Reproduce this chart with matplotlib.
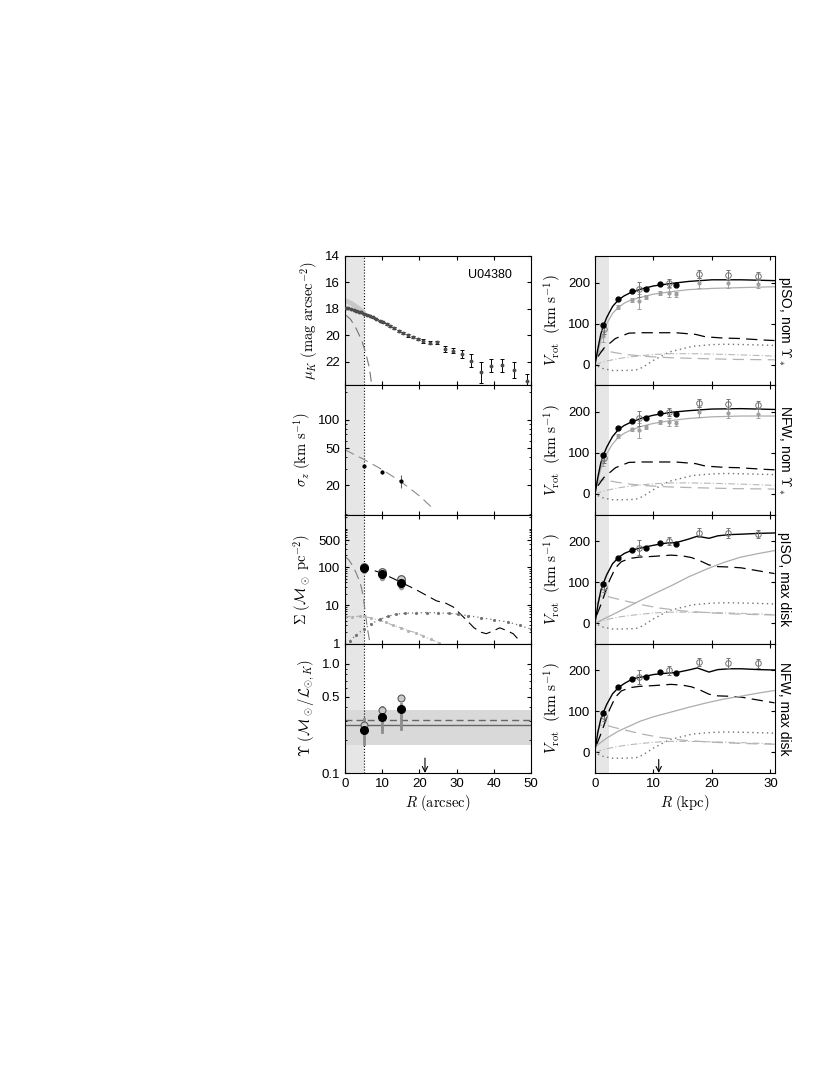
import matplotlib
matplotlib.use('Agg')
import matplotlib.pyplot as plt
from matplotlib.ticker import FixedLocator, NullFormatter, LogLocator

plt.rcParams['font.family'] = ['Liberation Sans', 'DejaVu Sans']
plt.rcParams['mathtext.fontset'] = 'cm'
plt.rcParams['font.size'] = 9.5
plt.rcParams['xtick.labelsize'] = 9.5
plt.rcParams['ytick.labelsize'] = 9.5
plt.rcParams['xtick.direction'] = 'in'
plt.rcParams['ytick.direction'] = 'in'
plt.rcParams['xtick.top'] = True
plt.rcParams['ytick.right'] = True
plt.rcParams['xtick.major.size'] = 3
plt.rcParams['ytick.major.size'] = 3
plt.rcParams['xtick.minor.size'] = 1.5
plt.rcParams['ytick.minor.size'] = 1.5
plt.rcParams['axes.linewidth'] = 0.8

LABEL_FS = 10.5
LONG_DASH = (0, (9, 5))

# ---- left column (arcsec) ----
# surface brightness profile
mu_r = [0.2, 0.9, 1.6, 2.3, 3.0, 3.7, 4.4, 5.1, 5.9, 6.7, 7.5, 8.4, 9.3, 10.2, 11.2,
        12.2, 13.3, 14.4, 15.6, 16.9, 18.2, 19.6, 21.1, 22.8, 24.6,
        26.9, 29.1, 31.4, 33.8, 36.5, 39.2, 42.1, 45.4, 48.8]
mu_val = [17.95, 17.98, 18.02, 18.08, 18.15, 18.22, 18.28, 18.36, 18.45, 18.55, 18.66,
          18.78, 18.9, 19.02, 19.15, 19.3, 19.48, 19.67, 19.85, 20.02, 20.15, 20.3,
          20.45, 20.57, 20.55, 21.06, 21.19, 21.44, 21.95, 22.8, 22.33, 22.28, 22.67, 23.48]
mu_err = [0.02] * 12 + [0.04, 0.05, 0.05, 0.06, 0.07, 0.08, 0.08, 0.09, 0.1, 0.1, 0.12,
                        0.12, 0.13, 0.2, 0.2, 0.3, 0.5, 0.8, 0.5, 0.5, 0.6, 0.5]
band_r = [0.2, 1.0, 2.0, 3.0, 4.0, 5.0]
band_mu = [17.4, 17.5, 17.65, 17.85, 18.05, 18.3]
mu_bulge_r = [0.3, 1.5, 3.0, 4.5, 5.5, 6.5, 7.2]
mu_bulge = [18.5, 18.8, 19.5, 20.4, 21.3, 22.4, 23.8]

# vertical velocity dispersion
sig_r = [5, 10, 15]
sig_val = [32, 27.7, 22.5]
sig_err = [1.5, 1.5, 3.5]
sig_fit_r = [0, 5, 10, 15, 20, 23.5]
sig_fit = [48, 38, 29.5, 22, 15.5, 11.5]

# mass surface density
dyn_r = [5, 10, 15]
dyn_black = [92, 65, 39]
dyn_open = [100, 72, 49]
dyn_grey = [80, 53, 30]
disk_sd_r = [8, 10, 13, 16, 19, 22, 24.6, 27, 29.1, 32, 34.7, 36.5, 38, 40, 41.6, 43.5, 45.2, 46.6, 47.2]
disk_sd = [80, 68, 50, 36, 26, 18, 13.1, 11.5, 9.1, 4.8, 2.6, 2.0, 1.83, 2.2, 2.6, 2.2, 1.83, 1.3, 1.15]
bulge_sd_r = [0.2, 1, 2, 3, 4, 4.5, 5, 5.5, 6, 6.6]
bulge_sd = [180, 155, 110, 70, 40, 27, 14, 6, 2.6, 1.2]
h2_sd_r = [0, 2, 4, 5, 7, 9.3, 11, 13, 15, 17, 19, 21, 23, 25.4]
h2_sd = [5.1, 5.1, 5.2, 5.2, 4.7, 4.1, 3.6, 3.0, 2.6, 2.2, 1.95, 1.6, 1.3, 1.06]
hi_sd_r = [1.3, 3, 5, 7, 9.3, 11.5, 13.8, 16, 19, 22, 25, 28, 30.4, 33, 36.6, 40, 43.8, 47, 50]
hi_sd = [1.2, 1.7, 2.4, 3.3, 4.3, 5.2, 5.9, 6.2, 6.4, 6.5, 6.4, 6.2, 5.9, 5.4, 4.8, 4.2, 3.7, 3.0, 2.4]

# mass-to-light ratio
ups_r = [5, 10, 15]
ups_black = [0.249, 0.323, 0.388]
ups_open = [0.273, 0.374, 0.489]
ups_lo = [0.183, 0.237, 0.254]
ups_hi = [0.314, 0.40, 0.43]
ups_mean = 0.273
ups_dash = 0.303
ups_band = [0.179, 0.374]

# ---- right column (kpc) ----
vobs_r = [1.43, 3.95, 6.35, 8.75, 11.2, 13.8]
vobs = [96, 160, 179, 184.5, 196.5, 194]
vhi_r = [1.6, 7.6, 12.7, 17.8, 22.8, 27.9]
vhi = [88, 184, 200, 221, 219, 217]
vhi_err = [12, 18, 10, 10, 12, 10]
vdm_r = [1.43, 3.95, 6.35, 7.6, 8.75, 11.2, 12.7, 13.8, 17.8, 22.8, 27.9]
vdm_iso = [70, 141, 158, 155, 164, 175, 176, 172, 199, 198, 196]
vdm_nfw = [82, 141, 158, 155, 164, 175, 176, 172, 199, 198, 196]
vdm_err = [14, 5, 4, 18, 5, 5, 10, 6, 12, 12, 10]

mod_r = [0, 0.5, 1, 1.5, 2, 3, 4, 5, 6, 8, 10, 13, 16, 20, 25, 30.7]
tot_iso_nom = [0, 40, 75, 97, 115, 142, 158, 168, 175, 185, 192, 198, 203, 207, 207, 205]
halo_iso_nom = [0, 30, 60, 80, 100, 125, 140, 150, 157, 165, 172, 178, 183, 186, 188, 190]
tot_nfw_nom = [0, 42, 76, 97, 114, 140, 157, 167, 174, 185, 192, 199, 203, 207, 208, 206]
halo_nfw_nom = [0, 35, 62, 82, 98, 122, 138, 148, 155, 165, 172, 179, 184, 188, 190, 190]

disk_nom_r = [0.5, 1.5, 3.5, 5.8, 8, 10, 13.8, 17.2, 18.9, 22, 24.6, 29.1, 30.7]
disk_nom = [20, 40, 64, 77, 78, 78, 78, 74, 68, 65, 64, 60, 59]
bulge_nom_r = [0.2, 0.8, 1.5, 2.5, 4, 6, 9, 13, 18, 24, 30.7]
bulge_nom = [20, 33, 35, 32, 28, 24, 20, 17, 15, 13, 12]
h2_v_r = [0, 1, 2, 4, 6, 8, 10, 13, 16, 20, 25, 30.7]
h2_v = [0, 5, 9, 15, 19, 22, 25, 27, 27, 26, 24, 21]
hi_v_r = [0.5, 1.5, 3, 5, 7, 8.2, 9.9, 12.7, 16.7, 20, 22.4, 26, 29.8, 30.7]
hi_v = [-4, -10, -14, -14, -13, -6, 10, 31, 45, 49, 50, 49, 47.5, 47]

maxr = [0, 0.5, 1, 1.5, 2, 3, 4, 5, 6.5, 8, 10, 12, 14, 16, 17.5, 19.5, 21, 23, 25, 28, 30.7]
tot_iso_max = [0, 45, 80, 100, 118, 145, 160, 170, 179, 184, 190, 195, 197, 205, 212, 207, 213, 216, 217, 219, 220]
tot_nfw_max = [5, 50, 82, 100, 117, 143, 158, 168, 180, 184, 190, 193, 195, 201, 206, 196, 202, 204, 204, 202, 201]
disk_max_r = [0.3, 1, 1.5, 2.5, 3.5, 4.5, 6, 7.5, 10, 13, 15, 16.5, 18, 19.5, 21, 23, 25, 27, 30.7]
disk_max = [20, 45, 65, 105, 135, 150, 158, 161, 163, 166, 164, 160, 152, 142, 138, 137, 135, 130, 121]
bulge_max_r = [0.3, 0.8, 1.5, 3, 5, 8, 11, 15, 20, 25, 30.7]
bulge_max = [45, 65, 68, 62, 55, 45, 37, 30, 25, 22, 20]
halo_r = [0, 2, 4, 7.7, 10, 13.4, 16, 19.1, 22, 24.9, 28, 30.7]
halo_iso_max = [0, 14, 28, 55, 71, 94, 113, 132, 148, 161, 170, 177]
halo_nfw_max = [14, 35, 52, 76, 87, 100, 110, 121, 130, 137, 145, 151]

panel_names = ['pISO, nom $\\Upsilon_*$', 'NFW, nom $\\Upsilon_*$', 'pISO, max disk', 'NFW, max disk']

fig = plt.figure(figsize=(8.3, 10.75), dpi=100)
W, H = 830.0, 1075.0
top, ph = 256.0, 129.25
lax = []
rax = []
for i in range(4):
    b = 1 - (top + (i + 1) * ph) / H
    lax.append(fig.add_axes([345 / W, b, 186 / W, ph / H]))
    rax.append(fig.add_axes([595 / W, b, 179.5 / W, ph / H]))

for ax in lax:
    ax.axvspan(0, 5, color='0.9', lw=0, zorder=0)
    ax.axvline(5, color='k', ls=':', lw=0.8, zorder=1)
    ax.set_xlim(0, 50)
    ax.xaxis.set_major_locator(FixedLocator([0, 10, 20, 30, 40, 50]))
for ax in lax[:3]:
    ax.set_xticklabels([])

# panel 1: surface brightness
ax = lax[0]
ax.plot(band_r, band_mu, color='0.78', lw=3.5, solid_capstyle='round', zorder=2)
ax.plot(mu_bulge_r, mu_bulge, color='0.45', lw=0.8, ls=LONG_DASH, zorder=2)
ax.errorbar(mu_r, mu_val, yerr=mu_err, fmt='o', ms=1.8, mfc='0.3', mec='0.3',
            ecolor='k', elinewidth=0.7, capsize=1.5, capthick=0.7, zorder=3)
ax.set_ylim(23.8, 14)
ax.yaxis.set_major_locator(FixedLocator([14, 16, 18, 20, 22]))
ax.set_ylabel('$\\mu_K\\ (\\mathrm{mag\\ arcsec^{-2}})$', fontsize=LABEL_FS, labelpad=3)
ax.text(0.78, 0.855, 'U04380', transform=ax.transAxes, ha='center', va='center', fontsize=9)

# panel 2: sigma_z
ax = lax[1]
ax.set_yscale('log')
ax.plot(sig_fit_r, sig_fit, color='0.55', lw=0.8, ls=LONG_DASH, zorder=2)
ax.errorbar(sig_r, sig_val, yerr=sig_err, fmt='o', ms=2, color='k', mfc='k',
            ecolor='0.4', elinewidth=0.8, capsize=0, zorder=3)
ax.set_ylim(9.8, 234)
ax.yaxis.set_major_locator(FixedLocator([20, 50, 100]))
ax.set_yticklabels(['20', '50', '100'])
ax.yaxis.set_minor_locator(LogLocator(subs=range(1, 10)))
ax.yaxis.set_minor_formatter(NullFormatter())
ax.set_ylabel('$\\sigma_z\\ (\\mathrm{km\\ s^{-1}})$', fontsize=LABEL_FS, labelpad=3)

# panel 3: Sigma
ax = lax[2]
ax.set_yscale('log')
ax.plot(bulge_sd_r, bulge_sd, color='0.5', lw=0.8, ls=LONG_DASH, zorder=2)
ax.plot(disk_sd_r, disk_sd, color='k', lw=0.8, ls=LONG_DASH, zorder=2)
ax.plot(h2_sd_r, h2_sd, color='0.7', lw=0.8, ls=(0, (5, 2, 1, 2)), marker='.', ms=2.5, zorder=2)
ax.plot(hi_sd_r, hi_sd, color='0.45', lw=0.9, ls=(0, (1, 2.5)), marker='.', ms=2.5, zorder=2)
ax.plot(dyn_r, dyn_grey, 'o', ms=3, color='0.6', zorder=3)
ax.plot(dyn_r, dyn_open, 'o', ms=5.5, mfc='0.8', mec='0.3', mew=0.8, zorder=3)
ax.plot(dyn_r, dyn_black, 'o', ms=5.5, color='k', zorder=4)
ax.set_ylim(1, 2340)
ax.yaxis.set_major_locator(FixedLocator([1, 10, 100, 500]))
ax.set_yticklabels(['1', '10', '100', '500'])
ax.yaxis.set_minor_locator(LogLocator(subs=range(1, 10)))
ax.yaxis.set_minor_formatter(NullFormatter())
ax.set_ylabel('$\\Sigma\\ (\\mathcal{M}_\\odot\\ \\mathrm{pc^{-2}})$', fontsize=LABEL_FS, labelpad=3)

# panel 4: Upsilon
ax = lax[3]
ax.set_yscale('log')
ax.axhspan(ups_band[0], ups_band[1], color='0.85', lw=0, zorder=0)
ax.axhline(ups_mean, color='0.4', lw=1, zorder=1)
ax.axhline(ups_dash, color='0.4', lw=1, ls=(0, (5, 3)), zorder=1)
for r, lo, hi in zip(ups_r, ups_lo, ups_hi):
    ax.plot([r, r], [lo, hi], color='0.55', lw=2, zorder=2)
ax.plot(ups_r, ups_open, 'o', ms=5, mfc='0.8', mec='0.35', mew=0.8, zorder=3)
ax.plot(ups_r, ups_black, 'o', ms=5.5, color='k', zorder=4)
ax.set_ylim(0.1, 1.53)
ax.yaxis.set_major_locator(FixedLocator([0.1, 0.5, 1.0]))
ax.set_yticklabels(['0.1', '0.5', '1.0'])
ax.yaxis.set_minor_locator(LogLocator(subs=range(1, 10)))
ax.yaxis.set_minor_formatter(NullFormatter())
ax.set_ylabel('$\\Upsilon\\ (\\mathcal{M}_\\odot/\\mathcal{L}_{\\odot,K})$', fontsize=LABEL_FS, labelpad=3)
ax.set_xlabel('$R\\ (\\mathrm{arcsec})$', fontsize=LABEL_FS, labelpad=2)
ax.annotate('', xy=(21.5, 0.1), xytext=(21.5, 0.137),
            arrowprops=dict(arrowstyle='->', color='k', lw=0.8, shrinkA=0, shrinkB=0))

# right column: rotation curves
tots = [tot_iso_nom, tot_nfw_nom, tot_iso_max, tot_nfw_max]
for i, ax in enumerate(rax):
    ax.axvspan(0, 2.45, color='0.9', lw=0, zorder=0)
    ax.set_xlim(0, 30.7)
    ax.set_ylim(-50, 265)
    ax.xaxis.set_major_locator(FixedLocator([0, 10, 20, 30]))
    ax.yaxis.set_major_locator(FixedLocator([0, 100, 200]))
    ax.set_ylabel('$V_{\\mathrm{rot}}\\ \\ (\\mathrm{km\\ s^{-1}})$', fontsize=LABEL_FS + 0.5, labelpad=3)
    if i < 3:
        ax.set_xticklabels([])
    nom = i < 2
    ax.plot(h2_v_r, h2_v, color='0.72', lw=0.8, ls=(0, (6, 2, 1, 2)), zorder=2)
    ax.plot(hi_v_r, hi_v, color='0.45', lw=1.0, ls=(0, (1, 2.5)), zorder=2)
    if nom:
        ax.plot(bulge_nom_r, bulge_nom, color='0.7', lw=0.9, ls=LONG_DASH, zorder=2)
        ax.plot(disk_nom_r, disk_nom, color='k', lw=0.9, ls=LONG_DASH, zorder=2)
        halo = halo_iso_nom if i == 0 else halo_nfw_nom
        vdm = vdm_iso if i == 0 else vdm_nfw
        ax.plot(mod_r, halo, color='0.68', lw=0.9, zorder=2)
        ax.plot(mod_r, tots[i], color='k', lw=1.0, zorder=3)
        ax.errorbar(vdm_r, vdm, yerr=vdm_err, fmt='o', ms=2, color='0.62',
                    elinewidth=0.7, capsize=1.5, capthick=0.7, zorder=3)
    else:
        ax.plot(bulge_max_r, bulge_max, color='0.7', lw=0.9, ls=LONG_DASH, zorder=2)
        ax.plot(disk_max_r, disk_max, color='k', lw=0.9, ls=LONG_DASH, zorder=2)
        halo = halo_iso_max if i == 2 else halo_nfw_max
        ax.plot(halo_r, halo, color='0.68', lw=0.9, zorder=2)
        ax.plot(maxr, tots[i], color='k', lw=1.0, zorder=3)
    ax.errorbar(vhi_r, vhi, yerr=vhi_err, fmt='o', ms=4, mfc='none', mec='0.45',
                ecolor='0.45', elinewidth=0.7, capsize=1.5, capthick=0.7, mew=0.7, zorder=4)
    ax.plot(vobs_r, vobs, 'o', ms=3.5, color='k', zorder=5)
    ax.text(1.055, 0.5, panel_names[i], transform=ax.transAxes, rotation=270,
            ha='center', va='center', fontsize=10)

rax[3].set_xlabel('$R\\ (\\mathrm{kpc})$', fontsize=LABEL_FS, labelpad=2)
rax[3].annotate('', xy=(10.9, -50), xytext=(10.9, -17),
                arrowprops=dict(arrowstyle='->', color='k', lw=0.8, shrinkA=0, shrinkB=0))

fig.savefig('out.png', dpi=100)
